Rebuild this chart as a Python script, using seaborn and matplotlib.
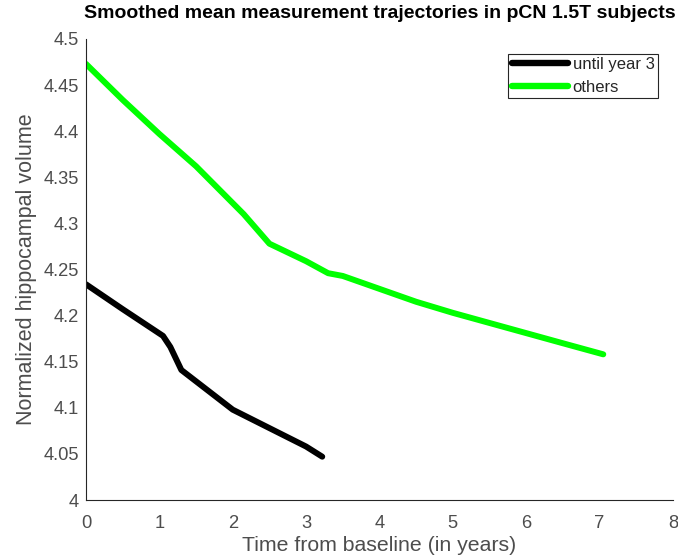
import matplotlib
matplotlib.use("Agg")
import matplotlib.pyplot as plt
import seaborn as sns
import pandas as pd

# Smoothed mean trajectories (years from baseline, normalized volume)
years_until3 = [0.0, 0.5, 1.05, 1.15, 1.3, 2.0, 2.5, 3.0, 3.22]
vol_until3 = [4.234, 4.207, 4.178, 4.166, 4.141, 4.098, 4.078, 4.058, 4.047]

years_others = [0.0, 0.5, 1.0, 1.5, 2.0, 2.15, 2.5, 3.0, 3.3, 3.5, 4.0,
                4.5, 5.0, 5.5, 6.0, 6.5, 7.05]
vol_others = [4.473, 4.434, 4.397, 4.362, 4.322, 4.310, 4.278, 4.259, 4.246,
              4.243, 4.229, 4.215, 4.203, 4.192, 4.181, 4.170, 4.158]

group_names = ["until year 3", "others"]
group_colors = ["#000000", "#00ff00"]

x_ticks = [0, 1, 2, 3, 4, 5, 6, 7, 8]
y_ticks = [4.0, 4.05, 4.1, 4.15, 4.2, 4.25, 4.3, 4.35, 4.4, 4.45, 4.5]

df = pd.concat([
    pd.DataFrame({"t": years_until3, "v": vol_until3, "group": group_names[0]}),
    pd.DataFrame({"t": years_others, "v": vol_others, "group": group_names[1]}),
], ignore_index=True)

sns.set_style("white")
plt.rcParams["font.family"] = ["Liberation Sans", "DejaVu Sans"]

fig = plt.figure(figsize=(6.78, 5.57), dpi=100)
ax = fig.add_axes([0.1268, 0.1023, 0.8658, 0.8277])

sns.lineplot(data=df, x="t", y="v", hue="group", hue_order=group_names,
             palette=dict(zip(group_names, group_colors)), sort=False,
             linewidth=4.3, ax=ax, legend=True)

axis_grey = "#262626"
text_grey = "#4d4d4d"
ax.set_xlim(0, 8)
ax.set_ylim(4.0, 4.5)
ax.set_xticks(x_ticks)
ax.set_xticklabels([f"{v:g}" for v in x_ticks])
ax.set_yticks(y_ticks)
ax.set_yticklabels([f"{v:g}" for v in y_ticks])
ax.tick_params(direction="in", length=4, width=0.8, colors=axis_grey,
               labelcolor=text_grey, labelsize=13.2)
ax.tick_params(axis="x", pad=11)
ax.tick_params(axis="y", pad=5)
for side in ["top", "right"]:
    ax.spines[side].set_visible(False)
for side in ["left", "bottom"]:
    ax.spines[side].set_color(axis_grey)
    ax.spines[side].set_linewidth(0.8)

ax.set_xlabel("Time from baseline (in years)", fontsize=15.3, color=text_grey,
              labelpad=3)
ax.set_ylabel("Normalized hippocampal volume", fontsize=15.5, color=text_grey,
              labelpad=5)
ax.set_title("Smoothed mean measurement trajectories in pCN 1.5T subjects",
             fontsize=14, fontweight="bold", color="black", pad=15)

leg = ax.legend(loc="upper right", bbox_to_anchor=(0.974, 0.968),
                fontsize=12, handlelength=3.4, handletextpad=0.25,
                borderpad=0.2, labelspacing=0.45, frameon=True,
                fancybox=False, edgecolor=axis_grey, framealpha=1,
                borderaxespad=0)
leg.get_frame().set_linewidth(0.8)
for line in leg.get_lines():
    line.set_linewidth(4.6)
for txt in leg.get_texts():
    txt.set_color(axis_grey)

fig.savefig("out.png", dpi=100)
